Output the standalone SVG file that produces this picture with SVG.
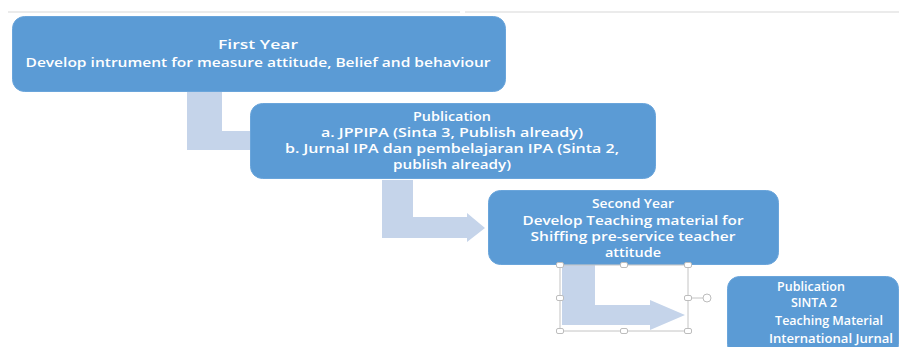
<svg xmlns="http://www.w3.org/2000/svg" width="899" height="347" viewBox="0 0 899 347">
  <style>
    .box { fill: #5b9bd5; stroke: #6aa5db; stroke-width: 1; }
    .arrow { fill: #c5d4ea; }
    .label { font-family: "Open Sans", "Liberation Sans", sans-serif; font-weight: 600; font-size: 12.5px; fill: #ffffff; text-anchor: middle; }
    .wide { font-size: 12px; }
    .rule { stroke: #e4e4e4; stroke-width: 1.5; }
    .sel { fill: none; stroke: #c4c4c4; stroke-width: 1; }
    .handle { fill: #ffffff; stroke: #bdbdbd; stroke-width: 1; }
  </style>

  <rect x="0" y="0" width="899" height="347" fill="#ffffff"/>

  <!-- thin page rule along the top -->
  <line class="rule" x1="8" y1="12" x2="460" y2="12"/>
  <line class="rule" x1="465" y1="12" x2="899" y2="12"/>

  <!-- bent connector arrows -->
  <g id="connectors">
    <polygon class="arrow" points="187,92 222,92 222,131 254,131 254,150 187,150"/>
    <polygon class="arrow" points="382,180 413,180 413,217 467,217 467,213 485,228 467,242 467,238 382,238"/>
    <polygon class="arrow" points="562,265 595,265 595,305 650,305 650,300 685,315 650,330 650,325 562,325"/>
  </g>

  <g id="first-year">
    <rect class="box" x="12.5" y="16.5" width="493" height="75" rx="12"/>
    <text class="label wide" x="258" y="49" textLength="80" lengthAdjust="spacingAndGlyphs">First Year</text>
    <text class="label wide" x="258" y="67" textLength="465" lengthAdjust="spacingAndGlyphs">Develop intrument for measure attitude, Belief and behaviour</text>
  </g>

  <g id="publication-1">
    <rect class="box" x="250.5" y="103.5" width="405" height="75" rx="12"/>
    <text class="label wide" x="452" y="121" textLength="78" lengthAdjust="spacingAndGlyphs">Publication</text>
    <text class="label wide" x="452" y="137" textLength="262" lengthAdjust="spacingAndGlyphs">a. JPPIPA (Sinta 3, Publish already)</text>
    <text class="label wide" x="452" y="153" textLength="334" lengthAdjust="spacingAndGlyphs">b. Jurnal IPA dan pembelajaran IPA (Sinta 2,</text>
    <text class="label wide" x="452" y="169" textLength="118" lengthAdjust="spacingAndGlyphs">publish already)</text>
  </g>

  <g id="second-year">
    <rect class="box" x="488.5" y="190.5" width="290" height="74" rx="12"/>
    <text class="label wide" x="633" y="208" textLength="82" lengthAdjust="spacingAndGlyphs">Second Year</text>
    <text class="label wide" x="633" y="225" textLength="221" lengthAdjust="spacingAndGlyphs">Develop Teaching material for</text>
    <text class="label wide" x="633" y="241" textLength="205" lengthAdjust="spacingAndGlyphs">Shiffing pre-service teacher</text>
    <text class="label wide" x="633" y="257" textLength="56" lengthAdjust="spacingAndGlyphs">attitude</text>
  </g>

  <g id="publication-2">
    <rect class="box" x="727.5" y="276.5" width="171" height="80" rx="12"/>
    <text class="label" x="811" y="291">Publication</text>
    <text class="label" x="814" y="307">SINTA 2</text>
    <text class="label" x="829" y="325">Teaching Material</text>
    <text class="label" x="831" y="343" textLength="124" lengthAdjust="spacingAndGlyphs">International Jurnal</text>
  </g>

  <!-- selection frame around the last arrow -->
  <g id="selection">
    <rect class="sel" x="560" y="265" width="128" height="66"/>
    <line class="sel" x1="691" y1="298" x2="703" y2="298"/>
    <circle class="handle" cx="707" cy="298" r="4"/>
    <rect class="handle" x="556.5" y="262.5" width="7" height="5" rx="1.5"/>
    <rect class="handle" x="620.5" y="262.5" width="7" height="5" rx="1.5"/>
    <rect class="handle" x="684.5" y="262.5" width="7" height="5" rx="1.5"/>
    <rect class="handle" x="556.5" y="295.5" width="7" height="5" rx="1.5"/>
    <rect class="handle" x="684.5" y="295.5" width="7" height="5" rx="1.5"/>
    <rect class="handle" x="556.5" y="328.5" width="7" height="5" rx="1.5"/>
    <rect class="handle" x="620.5" y="328.5" width="7" height="5" rx="1.5"/>
    <rect class="handle" x="684.5" y="328.5" width="7" height="5" rx="1.5"/>
  </g>
</svg>
